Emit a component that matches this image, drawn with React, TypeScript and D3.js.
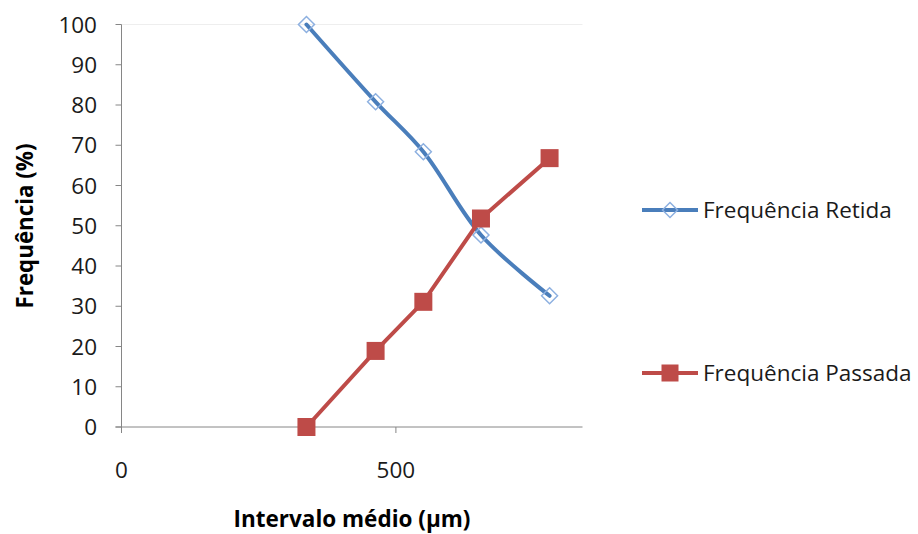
import React from "react";
import * as d3 from "d3";

// Mean interval (µm) of each sieve class
const intervals = [337, 463, 550, 655, 780];
// Retained and passing frequencies (%)
const retida = [100, 80.8, 68.4, 47.7, 32.6];
const passada = [0, 18.9, 31.1, 51.8, 66.8];

const yTicks = [0, 10, 20, 30, 40, 50, 60, 70, 80, 90, 100];
const xTicks = [0, 500];

const seriesNames = ["Frequência Retida", "Frequência Passada"];

const W = 918;
const H = 534;
const FONT = "'Open Sans', Lato, sans-serif";
const BLUE = "#4a7ebb";
const RED = "#be4b48";
const AXIS = "#868686";

export default function App() {
  const x = d3.scaleLinear().domain([0, 840]).range([121.5, 582.5]);
  const y = d3.scaleLinear().domain([0, 100]).range([427, 24.5]);

  const retPts: [number, number][] = intervals.map((v, i) => [x(v), y(retida[i])]);
  const pasPts: [number, number][] = intervals.map((v, i) => [x(v), y(passada[i])]);

  const smooth = d3.line().curve(d3.curveCatmullRom.alpha(0.5));
  const straight = d3.line();

  const diamond = (cx: number, cy: number, r: number) =>
    `M${cx},${cy - r}L${cx + r},${cy}L${cx},${cy + r}L${cx - r},${cy}Z`;

  return (
    <svg
      width={W}
      height={H}
      style={{ position: "absolute", left: 0, top: 0, background: "#fff" }}
      fontFamily={FONT}
    >
      <rect width={W} height={H} fill="#fff" />
      {/* faint top border of plot area */}
      <line x1={x(0)} x2={x(840)} y1={y(100)} y2={y(100)} stroke="#eeeeee" strokeWidth={1} />

      {/* y axis */}
      <line x1={x(0)} x2={x(0)} y1={y(100)} y2={y(0) + 5} stroke={AXIS} strokeWidth={1} />
      {yTicks.map((t) => (
        <g key={t}>
          <line x1={x(0) - 6} x2={x(0)} y1={y(t)} y2={y(t)} stroke={AXIS} strokeWidth={1} />
          <text x={97} y={y(t)} dy="0.36em" textAnchor="end" fontSize={22.5} fill="#1a1a1a">
            {t}
          </text>
        </g>
      ))}

      {/* x axis */}
      <line x1={x(0) - 6} x2={x(840)} y1={y(0)} y2={y(0)} stroke={AXIS} strokeWidth={1} />
      {xTicks.map((t) => (
        <g key={t}>
          <line x1={x(t)} x2={x(t)} y1={y(0)} y2={y(0) + 6} stroke={AXIS} strokeWidth={1} />
          <text x={x(t)} y={478} textAnchor="middle" fontSize={22.5} fill="#1a1a1a">
            {t}
          </text>
        </g>
      ))}

      {/* axis titles */}
      <text x={352} y={527} textAnchor="middle" fontSize={22.5} fontWeight="bold" fill="#000">
        Intervalo médio (µm)
      </text>
      <text
        transform={`translate(33,226) rotate(-90)`}
        textAnchor="middle"
        fontSize={22.3}
        fontWeight="bold"
        fill="#000"
      >
        Frequência (%)
      </text>

      {/* Frequência Retida */}
      <path d={smooth(retPts) || ""} fill="none" stroke={BLUE} strokeWidth={4} strokeLinecap="round" />
      {retPts.map(([cx, cy], i) => (
        <path key={i} d={diamond(cx, cy, 8)} fill="none" stroke="#8db0e0" strokeWidth={1.5} />
      ))}

      {/* Frequência Passada */}
      <path d={straight(pasPts) || ""} fill="none" stroke={RED} strokeWidth={4} strokeLinecap="round" />
      {pasPts.map(([cx, cy], i) => (
        <rect key={i} x={cx - 9} y={cy - 9} width={18} height={18} fill={RED} />
      ))}

      {/* legend */}
      <line x1={642} x2={698} y1={210} y2={210} stroke={BLUE} strokeWidth={4} />
      <path d={diamond(670, 210, 7.5)} fill="none" stroke="#8db0e0" strokeWidth={1.5} />
      <text x={703} y={210} dy="0.36em" fontSize={22.5} fill="#1a1a1a">
        {seriesNames[0]}
      </text>

      <line x1={642} x2={698} y1={373} y2={373} stroke={RED} strokeWidth={4} />
      <rect x={670 - 8.5} y={373 - 8.5} width={17} height={17} fill={RED} />
      <text x={703} y={373} dy="0.36em" fontSize={22.5} fill="#1a1a1a">
        {seriesNames[1]}
      </text>
    </svg>
  );
}
